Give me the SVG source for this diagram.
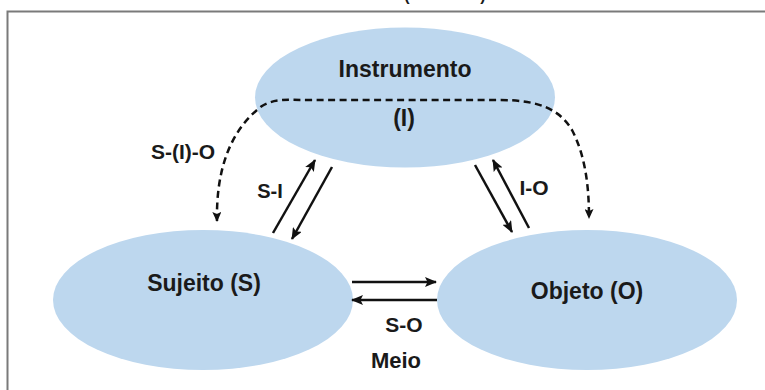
<svg xmlns="http://www.w3.org/2000/svg" width="765" height="390" viewBox="0 0 765 390">
  <defs>
    <style>
      .node { fill: #bdd7ee; }
      .label { font-family: "Liberation Sans", Arial, sans-serif; font-weight: bold; fill: #1a1a1a; text-anchor: middle; }
      .solid { fill: none; stroke: #111; stroke-width: 2.5; }
      .dashed { fill: none; stroke: #111; stroke-width: 2.5; stroke-dasharray: 7 4.5; }
    </style>
    <marker id="head" viewBox="0 0 12 10" refX="11" refY="5" markerWidth="12" markerHeight="10" markerUnits="userSpaceOnUse" orient="auto-start-reverse">
      <path d="M0,0 L12,5 L0,10 L2.5,5 Z" fill="#111"/>
    </marker>
    <marker id="dhead" viewBox="0 0 10 9" refX="9" refY="4.5" markerWidth="10" markerHeight="9" markerUnits="userSpaceOnUse" orient="auto-start-reverse">
      <path d="M0,0 L10,4.5 L0,9 L2,4.5 Z" fill="#111"/>
    </marker>
  </defs>

  <!-- page frame -->
  <rect x="7.5" y="11.5" width="800" height="420" fill="#ffffff" stroke="#7a7a7a" stroke-width="2"/>
  <text x="407" y="1" class="label" font-size="16" font-weight="normal" fill="#444">(</text>
  <text x="483" y="1" class="label" font-size="16" font-weight="normal" fill="#444">)</text>

  <g id="instrumento">
    <ellipse class="node" cx="405" cy="97.5" rx="150" ry="70"/>
    <text class="label" x="405" y="77" font-size="23">Instrumento</text>
    <text class="label" x="404" y="126" font-size="23">(I)</text>
  </g>

  <g id="sujeito">
    <ellipse class="node" cx="203" cy="300" rx="150" ry="70"/>
    <text class="label" x="204" y="291" font-size="23">Sujeito (S)</text>
  </g>

  <g id="objeto">
    <ellipse class="node" cx="587" cy="300" rx="150" ry="70"/>
    <text class="label" x="587" y="299" font-size="23">Objeto (O)</text>
  </g>

  <g id="connectors">
    <!-- mediated path S-(I)-O through the instrument -->
    <path class="dashed" marker-start="url(#dhead)" marker-end="url(#dhead)"
          d="M217,221 C216,170 230,130 262,106 C275,98 290,100 310,100 L500,100 C540,100 560,110 572,130 C585,155 589,185 589,218"/>
    <!-- S-I pair -->
    <line class="solid" x1="273" y1="233" x2="315" y2="160" marker-end="url(#head)"/>
    <line class="solid" x1="332" y1="167" x2="292" y2="239" marker-end="url(#head)"/>
    <!-- I-O pair -->
    <line class="solid" x1="475" y1="165" x2="512" y2="232" marker-end="url(#head)"/>
    <line class="solid" x1="529" y1="228" x2="493" y2="160" marker-end="url(#head)"/>
    <!-- S-O pair -->
    <line class="solid" x1="352" y1="282" x2="436" y2="282" marker-end="url(#head)"/>
    <line class="solid" x1="437" y1="300" x2="352" y2="300" marker-end="url(#head)"/>
  </g>

  <g id="labels">
    <text class="label" x="183" y="159" font-size="21">S-(I)-O</text>
    <text class="label" x="270" y="198" font-size="20">S-I</text>
    <text class="label" x="534" y="195" font-size="21">I-O</text>
    <text class="label" x="404" y="332" font-size="21">S-O</text>
    <text class="label" x="396" y="368" font-size="22">Meio</text>
  </g>
</svg>
